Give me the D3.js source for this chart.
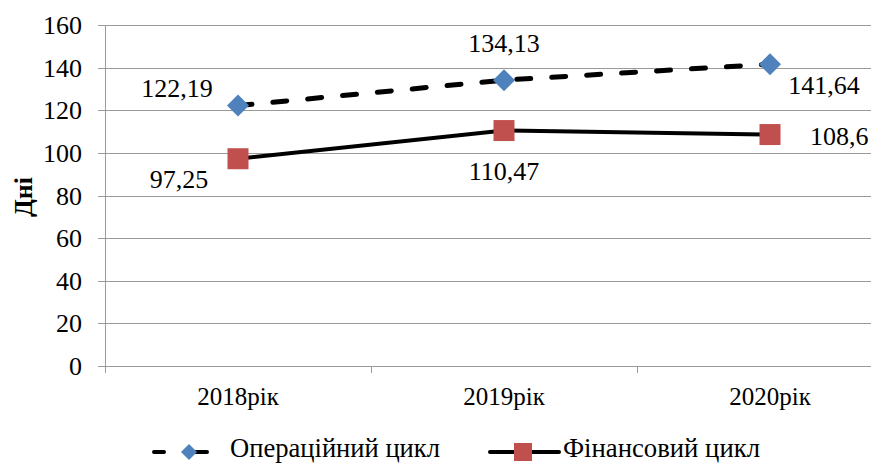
<!DOCTYPE html>
<html>
<head>
<meta charset="utf-8">
<script src="https://cdn.jsdelivr.net/npm/d3@7"></script>
<style>
  html, body { margin: 0; padding: 0; background: #fff; }
  svg { display: block; }
</style>
</head>
<body>
<svg id="chart" width="871" height="464"></svg>
<script>
// Тривалість циклів підприємства, днів
const years = ["2018рік", "2019рік", "2020рік"];
const operatingCycle = [122.19, 134.13, 141.64];
const financialCycle = [97.25, 110.47, 108.6];
const yTicks = [0, 20, 40, 60, 80, 100, 120, 140, 160];
const seriesNames = ["Операційний цикл", "Фінансовий цикл"];

const FONT = '"Liberation Serif", "Times New Roman", serif';
const svg = d3.select("#chart");

const plot = { left: 105, right: 903, top: 25, bottom: 366 };

const x = d3.scaleBand().domain(years).range([plot.left, plot.right]);
const y = d3.scaleLinear().domain([0, 160]).range([plot.bottom, plot.top]);
const cx = d => x(d) + x.bandwidth() / 2;

const fmt = v => String(v).replace(".", ",");
const gridColor = "#9a9a9a";

// horizontal gridlines
svg.append("g")
  .selectAll("line")
  .data(yTicks.filter(t => t > 0))
  .join("line")
  .attr("x1", plot.left).attr("x2", plot.right)
  .attr("y1", d => Math.round(y(d)) + 0.5).attr("y2", d => Math.round(y(d)) + 0.5)
  .attr("stroke", gridColor).attr("stroke-width", 1);

// y axis
const yAxis = svg.append("g")
  .attr("transform", `translate(${plot.left},0)`)
  .call(d3.axisLeft(y).tickValues(yTicks).tickSize(7).tickPadding(16).tickFormat(d => d));
yAxis.select(".domain").attr("stroke", gridColor).attr("shape-rendering", "crispEdges");
yAxis.selectAll(".tick line").attr("stroke", gridColor).attr("shape-rendering", "crispEdges");
yAxis.selectAll(".tick text")
  .style("font-family", FONT).style("font-size", "26px")
  .attr("fill", "#000").attr("dy", "0.33em");

// x axis
const xAxis = svg.append("g")
  .attr("transform", `translate(0,${plot.bottom})`)
  .call(d3.axisBottom(x).tickSize(0).tickPadding(21));
xAxis.select(".domain").attr("stroke", gridColor).attr("shape-rendering", "crispEdges");
xAxis.selectAll(".tick text")
  .style("font-family", FONT).style("font-size", "25px")
  .attr("fill", "#000");
// category boundary ticks
svg.append("g")
  .selectAll("line")
  .data(years)
  .join("line")
  .attr("x1", d => x(d)).attr("x2", d => x(d))
  .attr("y1", plot.bottom).attr("y2", plot.bottom + 7)
  .attr("stroke", gridColor).attr("shape-rendering", "crispEdges");

// y axis title
svg.append("text")
  .attr("transform", `translate(32,197) rotate(-90)`)
  .attr("text-anchor", "middle")
  .style("font-family", FONT).style("font-size", "26px").style("font-weight", "bold")
  .text("Дні");

const line = d3.line().x((d, i) => cx(years[i])).y(d => y(d));

// operating cycle: dashed line with diamonds
svg.append("path")
  .datum(operatingCycle)
  .attr("d", line)
  .attr("fill", "none").attr("stroke", "#000")
  .attr("stroke-width", 5).attr("stroke-linecap", "round")
  .attr("stroke-dasharray", "14,21");

// financial cycle: solid line with squares
svg.append("path")
  .datum(financialCycle)
  .attr("d", line)
  .attr("fill", "none").attr("stroke", "#000")
  .attr("stroke-width", 4);

const diamond = (px, py, r) => `M${px},${py - r}L${px + r},${py}L${px},${py + r}L${px - r},${py}Z`;

svg.append("g")
  .selectAll("path")
  .data(operatingCycle)
  .join("path")
  .attr("d", (d, i) => diamond(cx(years[i]), y(d), 11))
  .attr("fill", "#4F81BD");

svg.append("g")
  .selectAll("rect")
  .data(financialCycle)
  .join("rect")
  .attr("x", (d, i) => cx(years[i]) - 10.5)
  .attr("y", d => y(d) - 10.5)
  .attr("width", 21).attr("height", 21)
  .attr("fill", "#C0504D");

// value labels: [dx, dy, anchor] relative to each point
const opLabelPos = [[-61, -17, "middle"], [0, -37, "middle"], [54, 21, "middle"]];
const finLabelPos = [[-59, 21, "middle"], [0, 41, "middle"], [40, 2, "start"]];

function drawLabels(values, pos) {
  svg.append("g")
    .selectAll("text")
    .data(values)
    .join("text")
    .attr("x", (d, i) => cx(years[i]) + pos[i][0])
    .attr("y", (d, i) => y(d) + pos[i][1])
    .attr("dy", "0.33em")
    .attr("text-anchor", (d, i) => pos[i][2])
    .style("font-family", FONT).style("font-size", "26px")
    .text(d => fmt(d));
}
drawLabels(operatingCycle, opLabelPos);
drawLabels(financialCycle, finLabelPos);

// legend
const legY = 452;
const legBase = 457;
const leg = svg.append("g");
// operating
leg.append("line")
  .attr("x1", 154).attr("x2", 207).attr("y1", legY).attr("y2", legY)
  .attr("stroke", "#000").attr("stroke-width", 4).attr("stroke-linecap", "round")
  .attr("stroke-dasharray", "10,25");
leg.append("line")
  .attr("x1", 196).attr("x2", 207).attr("y1", legY).attr("y2", legY)
  .attr("stroke", "#000").attr("stroke-width", 4).attr("stroke-linecap", "round");
leg.append("path").attr("d", diamond(189, legY, 8)).attr("fill", "#4F81BD");
leg.append("text")
  .attr("x", 230).attr("y", legBase)
  .style("font-family", FONT).style("font-size", "28px")
  .attr("textLength", 210).attr("lengthAdjust", "spacingAndGlyphs")
  .text(seriesNames[0]);
// financial
leg.append("line")
  .attr("x1", 490).attr("x2", 559).attr("y1", legY).attr("y2", legY)
  .attr("stroke", "#000").attr("stroke-width", 4).attr("stroke-linecap", "round");
leg.append("rect")
  .attr("x", 514).attr("y", legY - 9).attr("width", 18).attr("height", 18)
  .attr("fill", "#C0504D");
leg.append("text")
  .attr("x", 563).attr("y", legBase)
  .style("font-family", FONT).style("font-size", "28px")
  .attr("textLength", 197).attr("lengthAdjust", "spacingAndGlyphs")
  .text(seriesNames[1]);
</script>
</body>
</html>
